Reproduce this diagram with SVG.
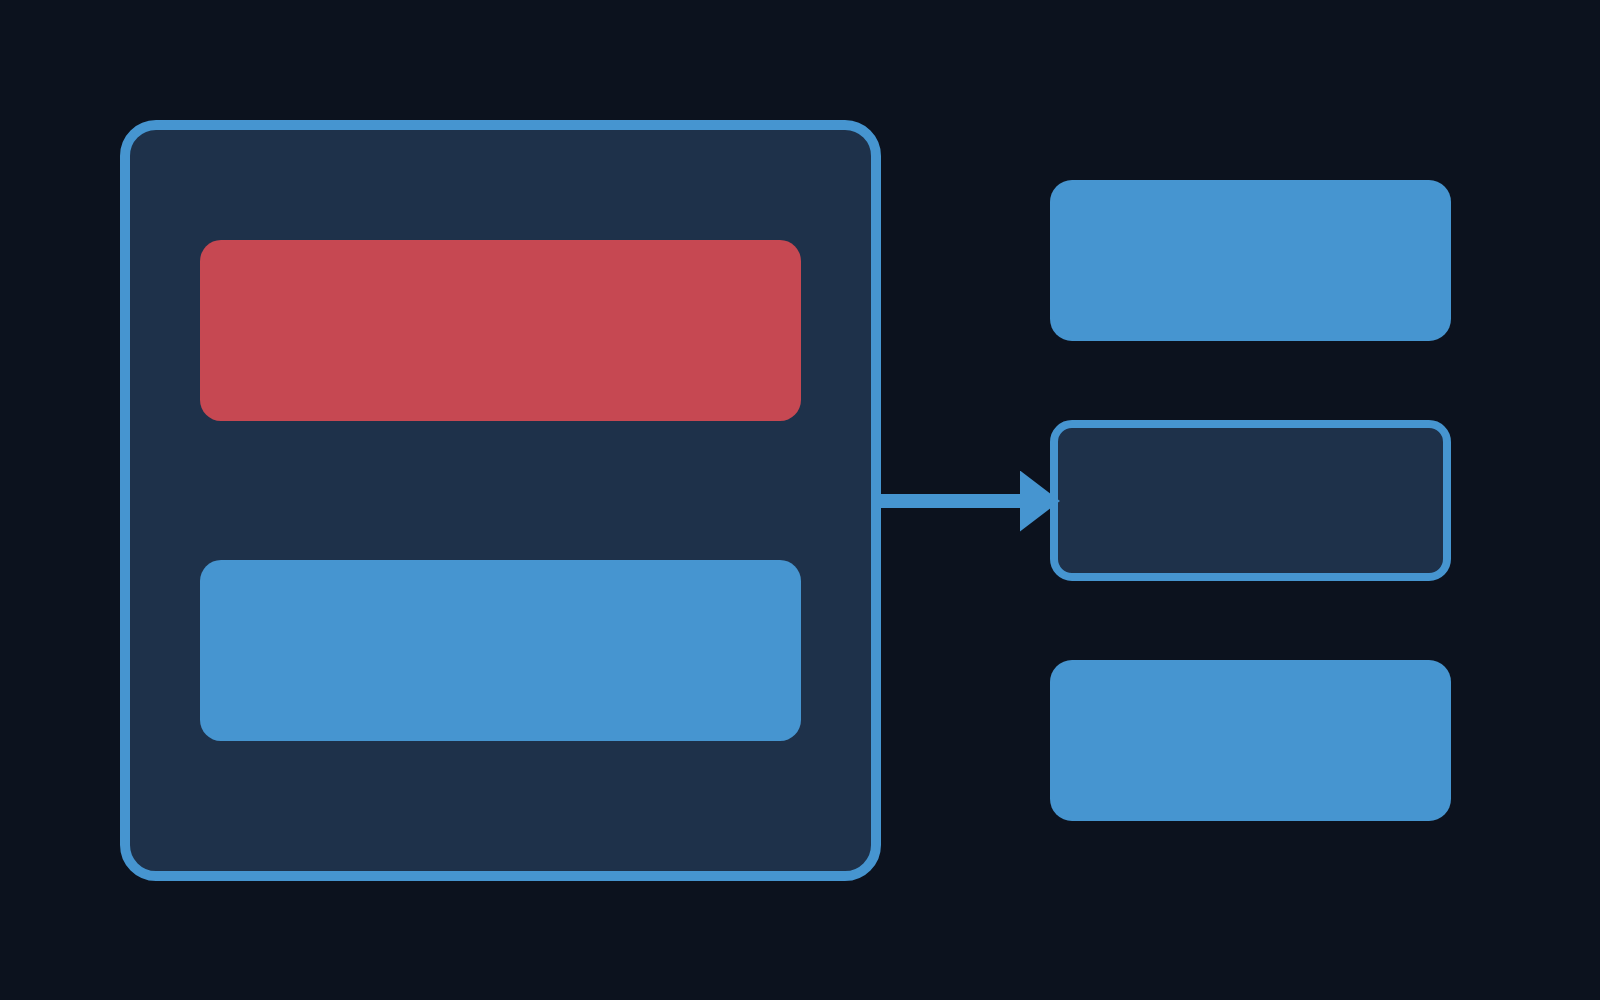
<svg xmlns="http://www.w3.org/2000/svg" width="1600" height="1000" viewBox="0 0 1600 1000">
  <defs>
    <style>
      .bg { fill: #0c121e; }
      .panel { fill: #1e314a; stroke: #4695d0; }
      .blue { fill: #4695d0; }
      .red { fill: #c64852; }
      .conn { stroke: #4695d0; stroke-width: 14; fill: none; }
    </style>
    <marker id="arrow" markerUnits="userSpaceOnUse" markerWidth="40" markerHeight="61" viewBox="0 0 40 61" refX="0" refY="30.5" orient="auto">
      <path d="M0,0 L40,30.5 L0,61 Z" fill="#4695d0"/>
    </marker>
  </defs>
  <rect class="bg" x="0" y="0" width="1600" height="1000"/>
  <g id="container">
    <rect class="panel" x="125" y="125" width="751" height="751" rx="31" ry="31" stroke-width="10"/>
  </g>
  <g id="inner-red">
    <rect class="red" x="200" y="240" width="601" height="181" rx="21" ry="21"/>
  </g>
  <g id="inner-blue">
    <rect class="blue" x="200" y="560" width="601" height="181" rx="21" ry="21"/>
  </g>
  <g id="right-top">
    <rect class="blue" x="1050" y="180" width="401" height="161" rx="22" ry="22"/>
  </g>
  <g id="right-middle">
    <rect class="panel" x="1054" y="424" width="393" height="153" rx="18" ry="18" stroke-width="8"/>
  </g>
  <g id="right-bottom">
    <rect class="blue" x="1050" y="660" width="401" height="161" rx="22" ry="22"/>
  </g>
  <g id="connectors">
    <line class="conn" x1="876" y1="501" x2="1020" y2="501" marker-end="url(#arrow)"/>
  </g>
</svg>
